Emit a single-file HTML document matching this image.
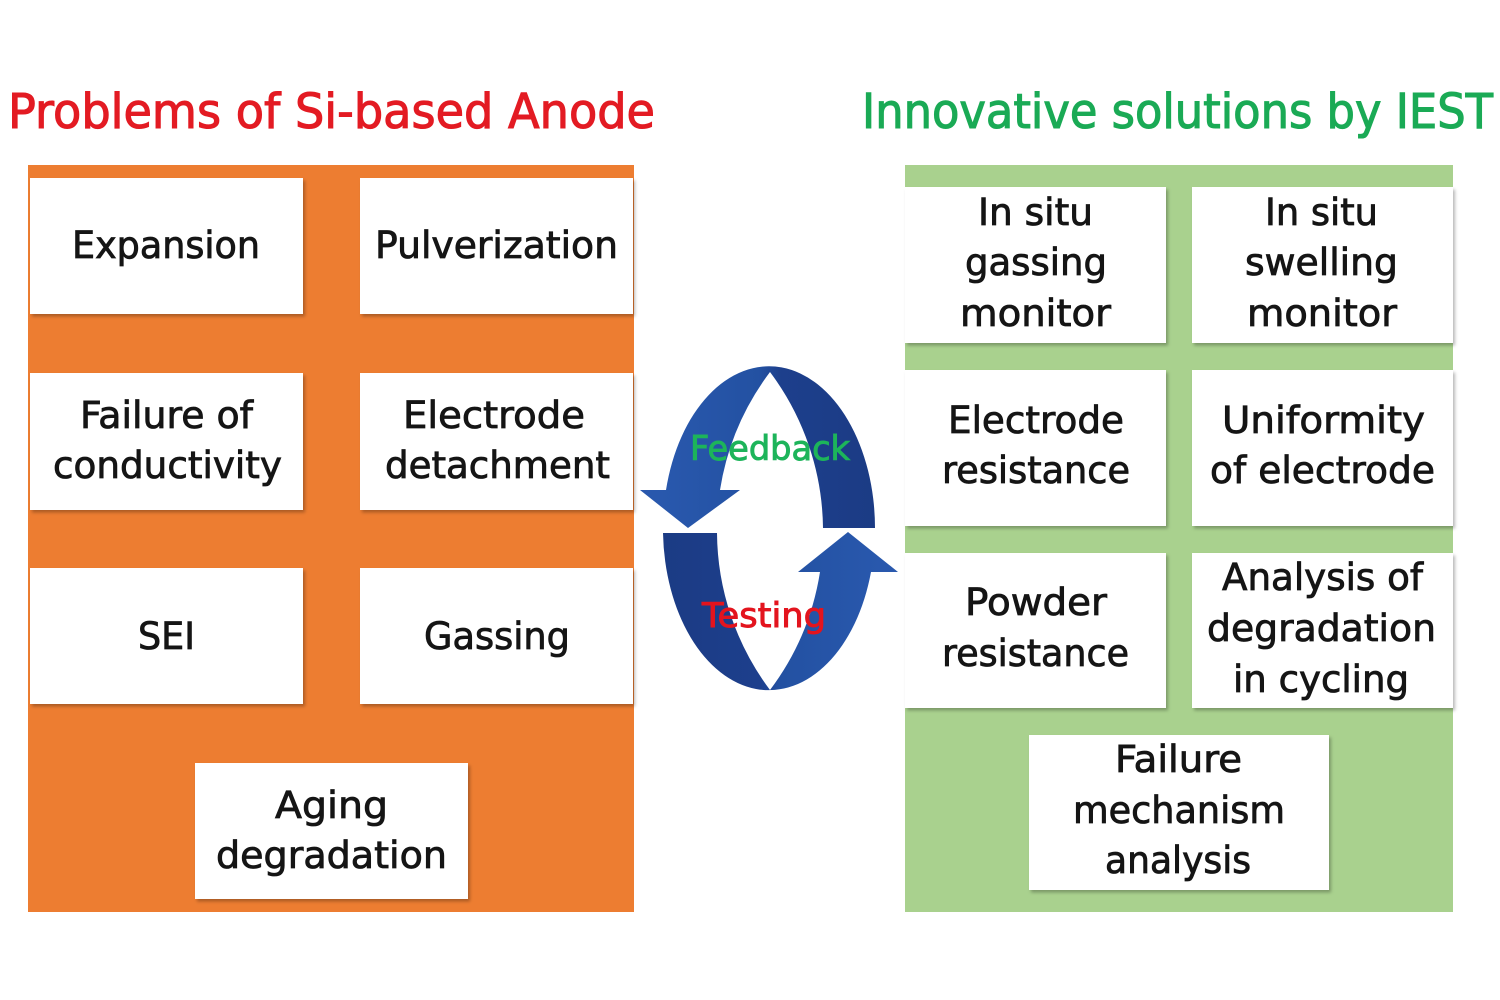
<!DOCTYPE html>
<html>
<head>
<meta charset="utf-8">
<style>
  html,body{margin:0;padding:0;background:#fff;}
  svg{display:block;}
  text{font-family:"DejaVu Sans","Liberation Sans",sans-serif;}
</style>
</head>
<body>
<svg width="1500" height="1000" viewBox="0 0 1500 1000" xmlns="http://www.w3.org/2000/svg">
  <defs>
    <filter id="sh" x="-5%" y="-5%" width="115%" height="120%">
      <feDropShadow dx="2" dy="2.5" stdDeviation="1.5" flood-color="#000" flood-opacity="0.28"/>
    </filter>
    <linearGradient id="gTop" gradientUnits="userSpaceOnUse" x1="660" y1="0" x2="880" y2="0">
      <stop offset="0" stop-color="#2958ad"/>
      <stop offset="0.45" stop-color="#2351a2"/>
      <stop offset="0.55" stop-color="#1d3f8c"/>
      <stop offset="1" stop-color="#1b3b84"/>
    </linearGradient>
    <linearGradient id="gBot" gradientUnits="userSpaceOnUse" x1="660" y1="0" x2="880" y2="0">
      <stop offset="0" stop-color="#1b3b84"/>
      <stop offset="0.45" stop-color="#1d3f8c"/>
      <stop offset="0.55" stop-color="#2351a2"/>
      <stop offset="1" stop-color="#2958ad"/>
    </linearGradient>
  </defs>

  <rect x="0" y="0" width="1500" height="1000" fill="#fff"/>

  <!-- Titles -->
  <text x="8" y="128" font-size="48" fill="#e31b23" stroke="#e31b23" stroke-width="1.1" textLength="647" lengthAdjust="spacingAndGlyphs">Problems of Si-based Anode</text>
  <text x="862" y="128" font-size="48" fill="#1aaa55" stroke="#1aaa55" stroke-width="1.1" textLength="631" lengthAdjust="spacingAndGlyphs">Innovative solutions by IEST</text>

  <!-- Left orange panel -->
  <rect x="28" y="165" width="606" height="747" fill="#ed7d31"/>
  <g fill="#fff" filter="url(#sh)">
    <rect x="30" y="178" width="273" height="136"/>
    <rect x="360" y="178" width="273" height="136"/>
    <rect x="30" y="373" width="273" height="137"/>
    <rect x="360" y="373" width="273" height="137"/>
    <rect x="30" y="568" width="273" height="136"/>
    <rect x="360" y="568" width="273" height="136"/>
    <rect x="195" y="763" width="273" height="136"/>
  </g>
  <g font-size="37" fill="#151515" stroke="#151515" stroke-width="0.8" text-anchor="middle">
    <text x="166" y="258" textLength="188" lengthAdjust="spacingAndGlyphs">Expansion</text>
    <text x="496.5" y="258" textLength="243" lengthAdjust="spacingAndGlyphs">Pulverization</text>
    <text x="166.5" y="428" textLength="173" lengthAdjust="spacingAndGlyphs">Failure of</text>
    <text x="167.5" y="478" textLength="229" lengthAdjust="spacingAndGlyphs">conductivity</text>
    <text x="494" y="428" textLength="182" lengthAdjust="spacingAndGlyphs">Electrode</text>
    <text x="497.5" y="478" textLength="225" lengthAdjust="spacingAndGlyphs">detachment</text>
    <text x="166.5" y="649" textLength="57" lengthAdjust="spacingAndGlyphs">SEI</text>
    <text x="497" y="649" textLength="146" lengthAdjust="spacingAndGlyphs">Gassing</text>
    <text x="331.5" y="818" textLength="113" lengthAdjust="spacingAndGlyphs">Aging</text>
    <text x="331.5" y="868" textLength="231" lengthAdjust="spacingAndGlyphs">degradation</text>
  </g>

  <!-- Right green panel -->
  <rect x="905" y="165" width="548" height="747" fill="#a9d18e"/>
  <g fill="#fff" filter="url(#sh)">
    <rect x="905" y="187" width="261" height="156"/>
    <rect x="1192" y="187" width="261" height="156"/>
    <rect x="905" y="370" width="261" height="156"/>
    <rect x="1192" y="370" width="261" height="156"/>
    <rect x="905" y="553" width="261" height="155"/>
    <rect x="1192" y="553" width="261" height="155"/>
    <rect x="1029" y="735" width="300" height="155"/>
  </g>
  <g font-size="37" fill="#151515" stroke="#151515" stroke-width="0.8" text-anchor="middle">
    <text x="1035.5" y="225" textLength="115" lengthAdjust="spacingAndGlyphs">In situ</text>
    <text x="1036" y="275" textLength="142" lengthAdjust="spacingAndGlyphs">gassing</text>
    <text x="1035.5" y="326" textLength="151" lengthAdjust="spacingAndGlyphs">monitor</text>
    <text x="1321.5" y="225" textLength="113" lengthAdjust="spacingAndGlyphs">In situ</text>
    <text x="1321.5" y="275" textLength="153" lengthAdjust="spacingAndGlyphs">swelling</text>
    <text x="1322" y="326" textLength="150" lengthAdjust="spacingAndGlyphs">monitor</text>
    <text x="1036" y="433" textLength="176" lengthAdjust="spacingAndGlyphs">Electrode</text>
    <text x="1036" y="483" textLength="188" lengthAdjust="spacingAndGlyphs">resistance</text>
    <text x="1323.5" y="433" textLength="203" lengthAdjust="spacingAndGlyphs">Uniformity</text>
    <text x="1322.5" y="483" textLength="225" lengthAdjust="spacingAndGlyphs">of electrode</text>
    <text x="1036" y="615" textLength="142" lengthAdjust="spacingAndGlyphs">Powder</text>
    <text x="1035.5" y="666" textLength="187" lengthAdjust="spacingAndGlyphs">resistance</text>
    <text x="1322.5" y="590" textLength="201" lengthAdjust="spacingAndGlyphs">Analysis of</text>
    <text x="1321.5" y="641" textLength="229" lengthAdjust="spacingAndGlyphs">degradation</text>
    <text x="1321" y="692" textLength="176" lengthAdjust="spacingAndGlyphs">in cycling</text>
    <text x="1178.5" y="772" textLength="127" lengthAdjust="spacingAndGlyphs">Failure</text>
    <text x="1179" y="823" textLength="212" lengthAdjust="spacingAndGlyphs">mechanism</text>
    <text x="1178" y="873" textLength="146" lengthAdjust="spacingAndGlyphs">analysis</text>
  </g>

  <!-- Cycle arrows -->
  <path fill="url(#gTop)" d="M875 528 A106 162 0 0 0 666 490 L640 490 L688 528 L740 490 L720 490 A265 265 0 0 1 770 372 A265 265 0 0 1 823 528 Z"/>
  <path fill="url(#gBot)" d="M663 533 A106 162 0 0 0 871 572 L898 572 L848 532 L798 572 L820 572 A265 265 0 0 1 770 690 A265 265 0 0 1 717 533 Z"/>

  <text x="690" y="460" font-size="34" fill="#1db45a" stroke="#1db45a" stroke-width="0.9" textLength="160" lengthAdjust="spacingAndGlyphs">Feedback</text>
  <text x="702" y="627" font-size="34" fill="#e3141e" stroke="#e3141e" stroke-width="0.9" textLength="124" lengthAdjust="spacingAndGlyphs">Testing</text>
</svg>
</body>
</html>
